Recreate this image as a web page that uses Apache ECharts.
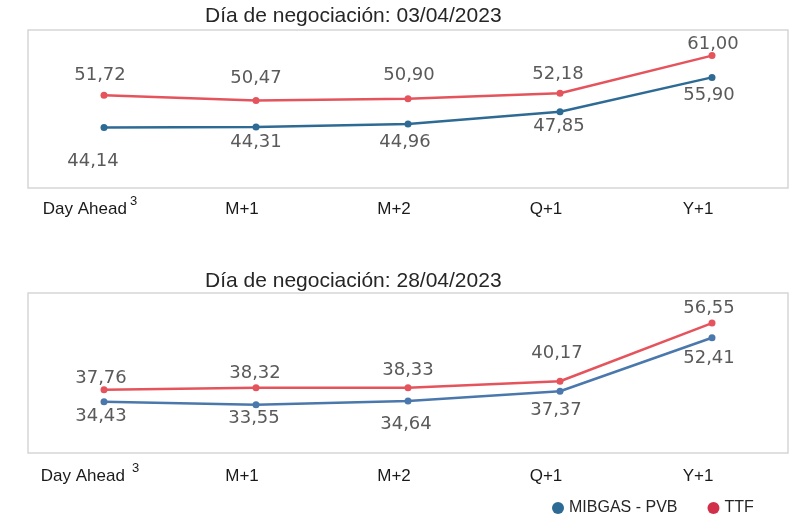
<!DOCTYPE html>
<html><head><meta charset="utf-8">
<script src="https://cdn.jsdelivr.net/npm/echarts@6/dist/echarts.min.js"></script>
<style>html,body{margin:0;padding:0;background:#fff}#c{width:790px;height:519px}</style>
</head><body><div id="c"></div>
<script>
const categories = ['Day Ahead', 'M+1', 'M+2', 'Q+1', 'Y+1'];
const titles = ['Día de negociación: 03/04/2023', 'Día de negociación: 28/04/2023'];
const seriesNames = ['MIBGAS - PVB', 'TTF'];
const mibgas0304 = [44.14, 44.31, 44.96, 47.85, 55.90];
const ttf0304 = [51.72, 50.47, 50.90, 52.18, 61.00];
const mibgas2804 = [34.43, 33.55, 34.64, 37.37, 52.41];
const ttf2804 = [37.76, 38.32, 38.33, 40.17, 56.55];

// label offsets (styling only)
const offTtf0304 = [[-4,-20],[0,-22],[1,-23],[-2,-19],[1,-11]];
const offMib0304 = [[-11,34],[0,15],[-3,18],[-1,15],[-3,18]];
const offTtf2804 = [[-3,-12],[-1,-15],[0,-17],[-3,-28],[-3,-15]];
const offMib2804 = [[-3,15],[-2,14],[-2,23],[-4,19],[-3,21]];

const fmt = v => Number(v).toFixed(2).replace('.', ',');
const LBL_FONT = 'DejaVu Sans';
const AX_FONT = 'Liberation Sans';

function mk(name, data, offs, color, idx, z) {
  return {
    type: 'line', name, xAxisIndex: idx, yAxisIndex: idx, z,
    data: data.map((v, i) => ({ value: v, label: { offset: offs[i] } })),
    symbol: 'circle', symbolSize: 7,
    lineStyle: { width: 2.5, color }, itemStyle: { color },
    label: { show: true, position: 'inside', formatter: p => fmt(p.value),
      fontFamily: LBL_FONT, fontSize: 18, color: '#5a5a5a' },
    emphasis: { disabled: true }, animation: false
  };
}

function xAx(idx, margin) {
  return {
    type: 'category', gridIndex: idx, data: categories, boundaryGap: true,
    axisLine: { show: false }, axisTick: { show: false },
    axisLabel: {
      interval: 0,
      formatter: v => v === 'Day Ahead' ? 'Day Ahead{s|3}' : v,
      fontFamily: AX_FONT, fontSize: 17, color: '#1a1a1a', margin,
      padding: [0, 28, 0, 0], lineHeight: 30,
      rich: { s: { fontFamily: AX_FONT, fontSize: 13, lineHeight: 13, padding: [0, 0, 16, idx ? 7 : 3], color: '#1a1a1a' } }
    }
  };
}

const chart = echarts.init(document.getElementById('c'));
chart.setOption({
  animation: false,
  title: titles.map((t, i) => ({
    text: t, left: 205, top: i ? 271 : 6, padding: 0,
    textStyle: { fontFamily: AX_FONT, fontSize: 21, fontWeight: 'normal', color: '#262626' }
  })),
  legend: {
    data: [{ name: seriesNames[0], itemStyle: { color: '#2E6B94' } }, { name: seriesNames[1], itemStyle: { color: '#D0304A' } }],
    icon: 'circle', itemWidth: 12, itemHeight: 12, itemGap: 30,
    left: 547, top: 495, selectedMode: false,
    textStyle: { fontFamily: AX_FONT, fontSize: 16, color: '#262626' }
  },
  grid: [
    { left: 28, right: 2, top: 30, height: 158, show: true, borderColor: '#d6d6d6', borderWidth: 1.5 },
    { left: 28, right: 2, top: 293, height: 160, show: true, borderColor: '#d6d6d6', borderWidth: 1.5 }
  ],
  xAxis: [xAx(0, 6), xAx(1, 8)],
  yAxis: [
    { type: 'value', gridIndex: 0, min: 30, max: 67, show: false },
    { type: 'value', gridIndex: 1, min: 20, max: 65, show: false }
  ],
  series: [
    mk(seriesNames[0], mibgas0304, offMib0304, '#2E6B94', 0, 3),
    mk(seriesNames[1], ttf0304, offTtf0304, '#E5545C', 0, 2),
    mk(seriesNames[0], mibgas2804, offMib2804, '#4A78AC', 1, 3),
    mk(seriesNames[1], ttf2804, offTtf2804, '#E5545C', 1, 2)
  ]
});
</script></body></html>
